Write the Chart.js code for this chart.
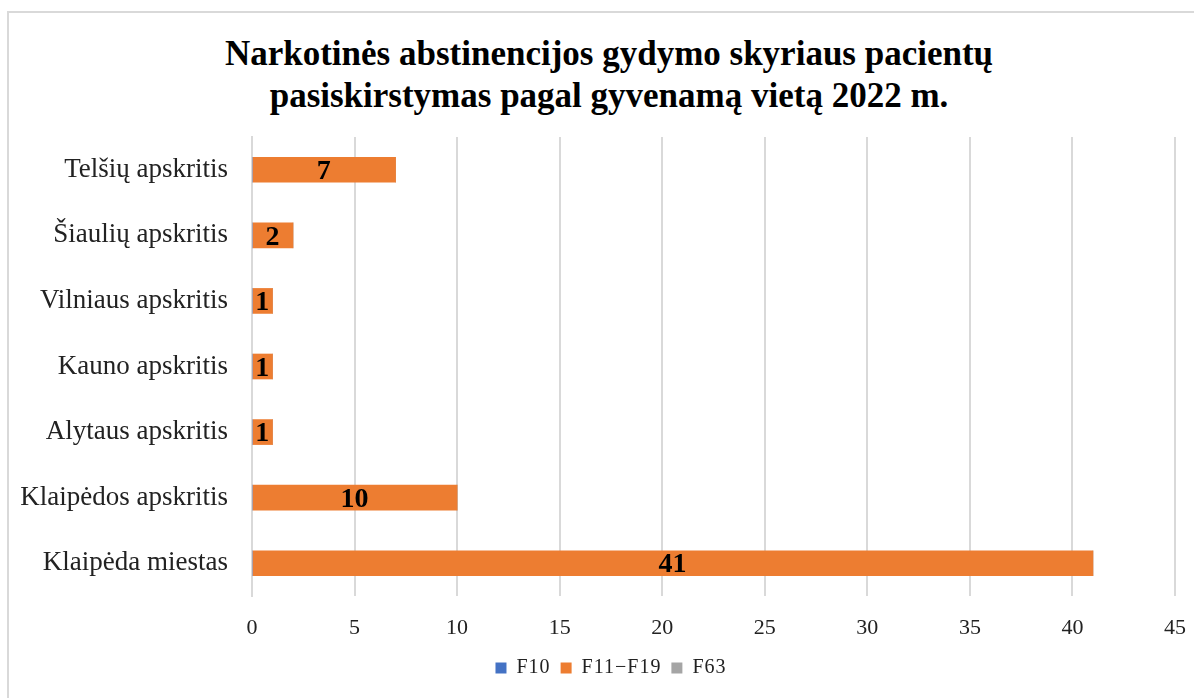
<!DOCTYPE html>
<html lang="lt">
<head>
<meta charset="utf-8">
<script src="https://cdn.jsdelivr.net/npm/chart.js@4.4.1/dist/chart.umd.min.js"></script>
<style>
  html, body { margin: 0; padding: 0; background: #fff; overflow: hidden; }
  #frame {
    position: absolute; left: 7px; top: 11px; width: 1200px; height: 700px;
    border: 2px solid #d9d9d9; box-sizing: border-box;
  }
  #title {
    position: absolute; left: 0; top: 33px; width: 1218px; text-align: center;
    font-family: "Liberation Serif", "Times New Roman", serif; font-weight: bold;
    font-size: 35px; line-height: 42px; color: #000; white-space: nowrap;
  }
  #wrap { position: absolute; left: 0; top: 0; width: 1205px; height: 698px; }
</style>
</head>
<body>
<div id="frame"></div>
<div id="title">Narkotinės abstinencijos gydymo skyriaus pacientų<br>pasiskirstymas pagal gyvenamą vietą 2022 m.</div>
<div id="wrap"><canvas id="chart"></canvas></div>
<script>
// duomenys
const regions = ['Telšių apskritis', 'Šiaulių apskritis', 'Vilniaus apskritis', 'Kauno apskritis',
                 'Alytaus apskritis', 'Klaipėdos apskritis', 'Klaipėda miestas'];
const f10 = [0, 0, 0, 0, 0, 0, 0];
const f11f19 = [7, 2, 1, 1, 1, 10, 41];
const f63 = [0, 0, 0, 0, 0, 0, 0];
const xTicks = [0, 5, 10, 15, 20, 25, 30, 35, 40, 45];

const serif = '"Liberation Serif", "Times New Roman", serif';

// reikšmių užrašai ant juostų
const valueLabels = {
    id: 'valueLabels',
    afterDatasetsDraw(chart) {
        const ctx = chart.ctx;
        const meta = chart.getDatasetMeta(1);
        const left = chart.scales.x.getPixelForValue(0);
        ctx.save();
        ctx.font = 'bold 28px ' + serif;
        ctx.fillStyle = '#000';
        ctx.textAlign = 'center';
        ctx.textBaseline = 'middle';
        meta.data.forEach((bar, i) => {
            const v = f11f19[i];
            if (!v) return;
            ctx.fillText(String(v), (left + bar.x) / 2, bar.y + 2);
        });
        ctx.restore();
    }
};

// legendos raidžių tarpai (kaip originale)
const legendSpacing = {
    id: 'legendSpacing',
    beforeLayout(chart) {
        const lg = chart.legend;
        if (!lg || lg._spaced) return;
        lg._spaced = true;
        ['fit', 'draw'].forEach(name => {
            const orig = lg[name];
            lg[name] = function () {
                const ctx = this.ctx;
                const prev = ctx.letterSpacing;
                ctx.letterSpacing = '1px';
                const r = orig.apply(this, arguments);
                ctx.letterSpacing = prev || '0px';
                return r;
            };
        });
    }
};

new Chart(document.getElementById('chart'), {
    type: 'bar',
    data: {
        labels: regions,
        datasets: [
            { label: 'F10', data: f10, backgroundColor: '#4472C4' },
            { label: 'F11\u2212F19', data: f11f19, backgroundColor: '#ED7D31' },
            { label: 'F63', data: f63, backgroundColor: '#A5A5A5' }
        ]
    },
    options: {
        indexAxis: 'y',
        responsive: true,
        maintainAspectRatio: false,
        animation: false,
        layout: { padding: { top: 137, left: 17, right: 0, bottom: 10 } },
        datasets: { bar: { barThickness: 25, borderWidth: 0 } },
        scales: {
            x: {
                stacked: true,
                min: 0, max: 45,
                afterBuildTicks(axis) { axis.ticks = xTicks.map(v => ({ value: v })); },
                afterFit(axis) { axis.height = 52; },
                grid: { color: '#d9d9d9', lineWidth: 2, drawTicks: false },
                border: { display: false },
                ticks: { padding: 19, color: '#222', font: { family: serif, size: 22 } }
            },
            y: {
                stacked: true,
                afterFit(axis) { axis.width = 235; },
                grid: { display: false, drawTicks: false },
                border: { color: '#d9d9d9', width: 2 },
                ticks: { padding: 24, color: '#222', font: { family: serif, size: 27 } }
            }
        },
        plugins: {
            title: { display: false },
            tooltip: { enabled: false },
            legend: {
                position: 'bottom',
                labels: {
                    boxWidth: 11, boxHeight: 11, padding: 10,
                    color: '#222', font: { family: serif, size: 20 }
                }
            }
        }
    },
    plugins: [valueLabels, legendSpacing]
});
</script>
</body>
</html>
